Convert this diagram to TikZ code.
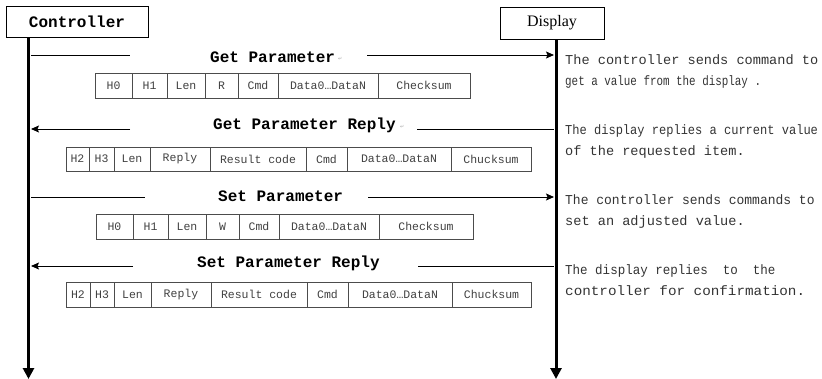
\documentclass[tikz,border=0pt]{standalone}
\usepackage{fontspec}
\setmainfont{Liberation Serif}
\setmonofont{Liberation Mono}
\newfontfamily\symfont{DejaVu Sans}
\usetikzlibrary{arrows.meta}
\begin{document}
\begin{tikzpicture}[x=1pt,y=-1pt,
  lifeline/.style={line width=3pt,-{Triangle[length=11pt,width=11pt]}},
  msg/.style={line width=0.9pt},
  tip/.style={-{Stealth[length=8pt,width=7pt,inset=1.5pt]}},
  actor/.style={draw,line width=0.9pt,inner sep=0pt},
  cell/.style={draw=black!70,line width=0.8pt,inner sep=0pt,
    font=\fontsize{11.5}{12}\selectfont\ttfamily,text=black!75},
  lbl/.style={anchor=base west,inner sep=0pt,font=\fontsize{16}{18}\selectfont\ttfamily\bfseries},
  note/.style={anchor=base west,inner sep=0pt,font=\fontsize{13.6}{16}\selectfont\ttfamily,text=black!80},
  retmark/.style={anchor=base west,inner sep=0pt,font=\fontsize{5}{6}\selectfont\symfont,text=black!35}
]
\useasboundingbox (0,0) rectangle (822,379);

% actors
\node[actor,minimum width=142,minimum height=31,font=\fontsize{16}{18}\selectfont\ttfamily\bfseries] (ctrl) at (77,21.5) {Controller};
\node[actor,minimum width=104,minimum height=32,font=\fontsize{16}{18}\selectfont\rmfamily] (disp) at (552,23) {Display};

% lifelines
\coordinate (cb) at (28.5,379);
\coordinate (db) at (556,379);
\draw[lifeline] (ctrl.south -| cb) -- (cb);
\draw[lifeline] (disp.south -| db) -- (db);

% message 1: Get Parameter
\coordinate (m1a) at (31,55); \coordinate (m1b) at (130,55);
\coordinate (m1c) at (367,55); \coordinate (m1d) at (554,55);
\draw[msg] (m1a) -- (m1b);
\node[lbl] (l1) at (210,63) {Get Parameter};
\node[retmark] (r1) at (338,61) {↵};
\draw[msg,tip] (m1c) -- (m1d);

% message 2: Get Parameter Reply
\coordinate (m2a) at (31,129); \coordinate (m2b) at (130,129);
\coordinate (m2c) at (417,129); \coordinate (m2d) at (554,129);
\draw[msg,tip] (m2b) -- (m2a);
\node[lbl] (l2) at (213,130) {Get Parameter Reply};
\node[retmark] (r2) at (400,129) {↵};
\draw[msg] (m2c) -- (m2d);

% message 3: Set Parameter
\coordinate (m3a) at (31,197); \coordinate (m3b) at (145,197);
\coordinate (m3c) at (368,197); \coordinate (m3d) at (554,197);
\draw[msg] (m3a) -- (m3b);
\node[lbl] (l3) at (218,202) {Set Parameter};
\draw[msg,tip] (m3c) -- (m3d);

% message 4: Set Parameter Reply
\coordinate (m4a) at (31,266); \coordinate (m4b) at (133,266);
\coordinate (m4c) at (418,266); \coordinate (m4d) at (554,266);
\draw[msg,tip] (m4b) -- (m4a);
\node[lbl] (l4) at (197,268) {Set Parameter Reply};
\draw[msg] (m4c) -- (m4d);

% tables
\foreach \a/\b/\lab [count=\i] in {95/132/H0,132/167/H1,167/205/Len,205/238/R,238/278/Cmd,278/378/Data0…DataN,378/470/Checksum}
  \node[cell,minimum width=\b-\a,minimum height=25] (ta\i) at ({(\a+\b)/2},85.5) {\lab};
\foreach \a/\b/\lab [count=\i] in {66/89/H2,89/114/H3,114/150/Len,150/210/Reply,210/306/Result code,306/347/Cmd,347/451/Data0…DataN,451/531/Chucksum}
  \node[cell,minimum width=\b-\a,minimum height=24] (tb\i) at ({(\a+\b)/2},159) {\lab};
\foreach \a/\b/\lab [count=\i] in {96/133/H0,133/168/H1,168/206/Len,206/239/W,239/279/Cmd,279/379/Data0…DataN,379/473/Checksum}
  \node[cell,minimum width=\b-\a,minimum height=25] (tc\i) at ({(\a+\b)/2},226.5) {\lab};
\foreach \a/\b/\lab [count=\i] in {66/90/H2,90/114/H3,114/151/Len,151/211/Reply,211/307/Result code,307/348/Cmd,348/452/Data0…DataN,452/531/Chucksum}
  \node[cell,minimum width=\b-\a,minimum height=25] (td\i) at ({(\a+\b)/2},294.5) {\lab};

% notes
\node[note] (n1a) at (565,65) {The controller sends command to};
\node[note] (n1b) at (565,86) {\scalebox{0.8}[1]{get a value from the display .}};
\node[note] (n2a) at (565,135) {\scalebox{0.885}[1]{The display replies a current value}};
\node[note] (n2b) at (565,156) {of the requested item.};
\node[note] (n3a) at (565,205) {\scalebox{0.955}[1]{The controller sends commands to}};
\node[note] (n3b) at (565,226) {set an adjusted value.};
\node[note] (n4a) at (565,275) {\scalebox{0.92}[1]{The display replies~~to~~the}};
\node[note] (n4b) at (565,296) {\scalebox{1.05}[1]{controller for confirmation.}};
\end{tikzpicture}
\end{document}
